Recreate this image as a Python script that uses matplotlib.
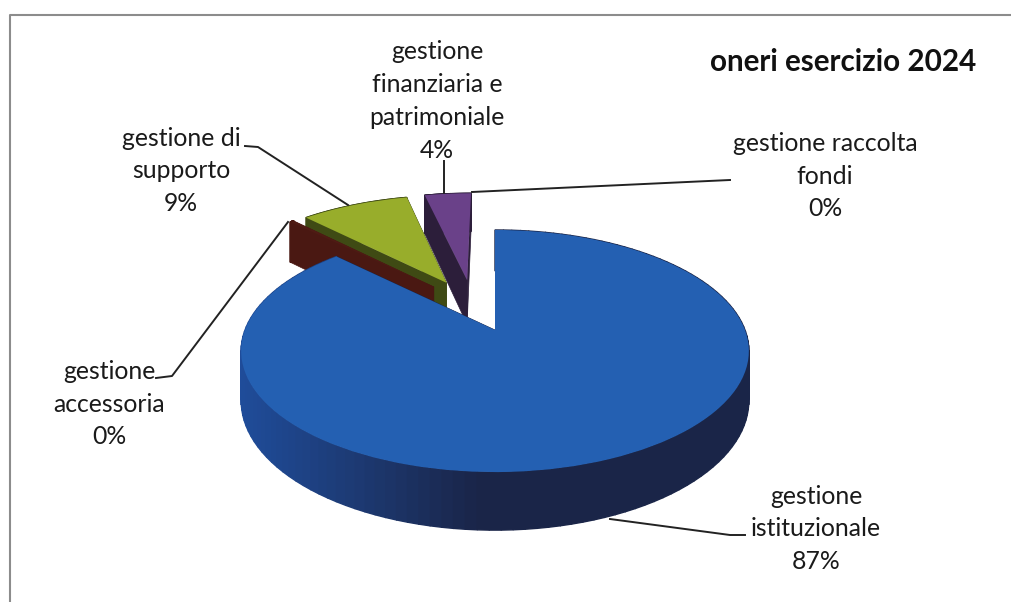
import matplotlib
matplotlib.use('Agg')
import matplotlib.pyplot as plt
import numpy as np
from matplotlib.patches import Polygon
from matplotlib.transforms import Transform

names = ['gestione\nistituzionale', 'gestione\naccessoria', 'gestione di\nsupporto',
         'gestione\nfinanziaria e\npatrimoniale', 'gestione raccolta\nfondi']
values = [87.4, 0.3, 8.6, 3.7, 0.0]
top_colors = ['#2460b2', '#4f1b14', '#98ad2b', '#6a4189', '#5a7fb5']
side_colors = ['#1a2548', '#4a1812', '#3f4a14', '#2c1e3a', '#2c3a50']

# label centres and leader lines, in picture pixels
label_pos = [(816, 529), (109, 404), (181, 171), (437, 101), (825, 176)]
leaders = [[(745, 535), (730, 535), (610, 519)],
           [(156, 378), (172, 376), (288, 222)],
           [(245, 146), (258, 147), (348, 205)],
           [(444, 161), (444, 193)],
           [(472, 192), (730, 180)]]

EXPLODE = 0.24
DEPTH = 48
CX, CY, A, B, K = 495, 330, 250, 117.4, 0.1736


def project(x, y, depth=0):
    # tilted view of the unit disc, far side a bit smaller
    w = 1 + K * y
    return np.column_stack([CX + A * x / w, CY - B * y / w + depth / w])


class Tilt(Transform):
    input_dims = 2
    output_dims = 2

    def transform_non_affine(self, values):
        values = np.asarray(values)
        return project(values[:, 0], values[:, 1])


fig = plt.figure(figsize=(10.12, 6.02), dpi=100)
ax = fig.add_axes([0, 0, 1, 1])

mid = np.deg2rad(90 - values[0] * 1.8)
center = (-EXPLODE * np.cos(mid), -EXPLODE * np.sin(mid))
wedges, _ = ax.pie(values, explode=[EXPLODE] * 5, startangle=90, counterclock=False,
                   colors=top_colors, center=center, labeldistance=None,
                   wedgeprops={'linewidth': 0})
ax.set_aspect('auto')
ax.set_xlim(0, 1012)
ax.set_ylim(602, 0)
ax.axis('off')

tilt = Tilt() + ax.transData


def mix(c1, c2, t):
    c1 = np.array(matplotlib.colors.to_rgb(c1))
    c2 = np.array(matplotlib.colors.to_rgb(c2))
    return tuple(c1 + (c2 - c1) * t)


# painter's order, back slices first, the big one last
for i in [4, 3, 2, 1, 0]:
    w = wedges[i]
    z = 10 + (4 - i) * 3
    w.set_transform(tilt)
    w.set_clip_on(False)
    w.set_zorder(z + 1)
    if values[i] == 0:
        continue
    cx, cy = w.center
    th = np.deg2rad(np.linspace(w.theta1, w.theta2, 140))
    ax_, ay_ = cx + w.r * np.cos(th), cy + w.r * np.sin(th)

    # flat cut faces
    for j in [0, -1]:
        xs = np.array([cx, ax_[j]])
        ys = np.array([cy, ay_[j]])
        pts = np.vstack([project(xs, ys), project(xs, ys, DEPTH)[::-1]])
        ax.add_patch(Polygon(pts, fc=side_colors[i], ec=side_colors[i], lw=0.5, zorder=z))

    # rim
    top = project(ax_, ay_)
    low = project(ax_, ay_, DEPTH)
    for j in range(len(th) - 1):
        col = side_colors[i]
        if i == 0:
            # rim goes from navy at the right to a lighter blue on the left
            px = (top[j, 0] - 243) / 507
            col = mix('#1f4c99', side_colors[0], min(1, px * 2.2))
        pts = np.vstack([top[j:j + 2], low[j:j + 2][::-1]])
        ax.add_patch(Polygon(pts, fc=col, ec=col, lw=1.0, zorder=z))

for i, name in enumerate(names):
    ax.text(label_pos[i][0], label_pos[i][1], f"{name}\n{round(values[i])}%", ha='center',
            va='center', family='Lato', fontsize=17.8, linespacing=1.52, color='#1a1a1a', zorder=40)
    px, py = zip(*leaders[i])
    ax.plot(px, py, color='#222222', lw=1.4, zorder=30)

ax.text(843, 62, 'oneri esercizio 2024', ha='center', va='center', family='Lato',
        fontsize=21.3, fontweight='bold', color='#111111', zorder=40)

# the scan only shows the top and left border
ax.plot([10, 10, 1012], [602, 14.5, 14.5], color='#8c8c8c', lw=1.5, zorder=1)

fig.savefig('out.png', dpi=100)
